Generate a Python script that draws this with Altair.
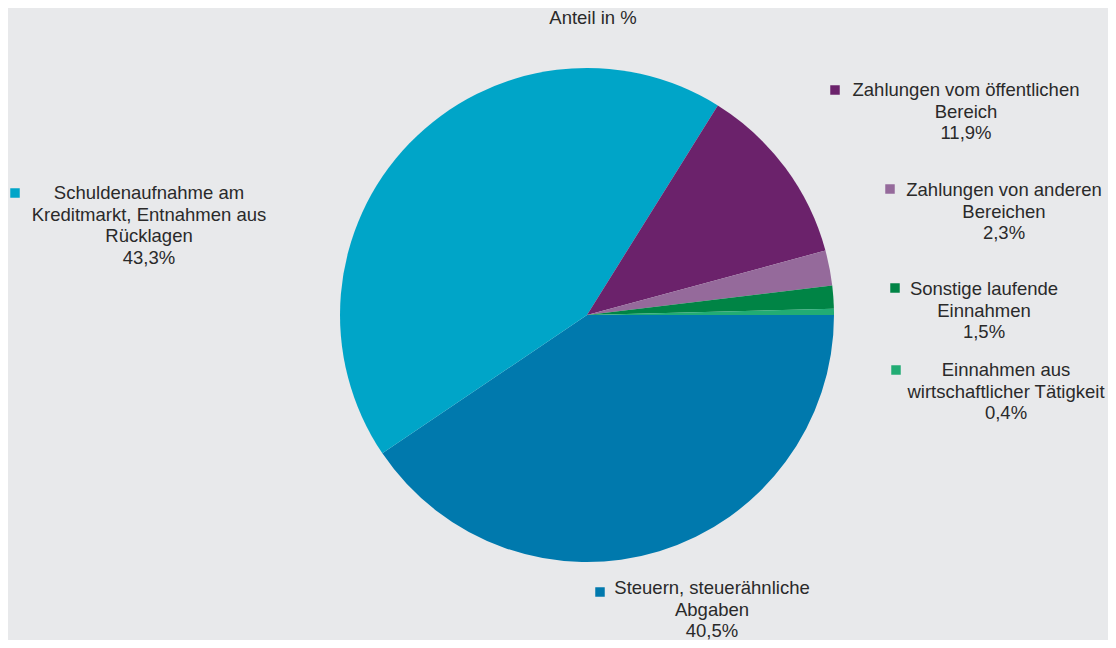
import math
import altair as alt
import pandas as pd

# --- data ---
categories = [
    "Steuern, steuerähnliche Abgaben",
    "Schuldenaufnahme am Kreditmarkt, Entnahmen aus Rücklagen",
    "Zahlungen vom öffentlichen Bereich",
    "Zahlungen von anderen Bereichen",
    "Sonstige laufende Einnahmen",
    "Einnahmen aus wirtschaftlicher Tätigkeit",
]
values = [40.5, 43.3, 11.9, 2.3, 1.5, 0.4]
colors = ["#0079ad", "#00a5c8", "#6b226b", "#956a9b", "#008445", "#22ac74"]

# wrapped label lines (layout of the text)
label_lines = [
    ["Steuern, steuerähnliche", "Abgaben"],
    ["Schuldenaufnahme am", "Kreditmarkt, Entnahmen aus", "Rücklagen"],
    ["Zahlungen vom öffentlichen", "Bereich"],
    ["Zahlungen von anderen", "Bereichen"],
    ["Sonstige laufende", "Einnahmen"],
    ["Einnahmen aus", "wirtschaftlicher Tätigkeit"],
]
# label placement (chart pixel coords, annotation layout)
label_cx = [704, 141, 958, 996, 976, 998]
label_y0 = [586, 191, 88, 188, 287, 368]
square_x = [592, 7, 827, 882, 887, 888]
square_y = [584, 185, 82, 181, 280, 362]

FONT = "Liberation Sans"
TXT = "#2a2a2a"
FS = 18.5

def pct(v):
    return f"{v:.1f}".replace(".", ",") + "%"

pie_df = pd.DataFrame({"cat": categories, "val": values, "idx": list(range(len(values)))})

lab_df = pd.DataFrame({
    "cat": categories,
    "text": ["\n".join(l + [pct(v)]) for l, v in zip(label_lines, values)],
    "lx": label_cx,
    "ly": label_y0,
})
sq_df = pd.DataFrame({"cat": categories, "sx": square_x, "sy": square_y})

color_scale = alt.Scale(domain=categories, range=colors)

pie = alt.Chart(pie_df).mark_arc(outerRadius=247, stroke=None).encode(
    theta=alt.Theta("val:Q", stack=True,
                    scale=alt.Scale(range=[math.pi / 2, math.pi / 2 + 2 * math.pi])),
    order=alt.Order("idx:Q", sort="ascending"),
    color=alt.Color("cat:N", scale=color_scale, legend=None),
    x=alt.value(579),
    y=alt.value(307),
)

labels = alt.Chart(lab_df).mark_text(
    font=FONT, fontSize=FS, color=TXT, align="center", baseline="alphabetic",
    lineBreak="\n", lineHeight=21.5,
).encode(
    x=alt.X("lx:Q", scale=None, axis=None),
    y=alt.Y("ly:Q", scale=None, axis=None),
    text="text:N",
)

squares = alt.Chart(sq_df).mark_square(size=90, opacity=1).encode(
    x=alt.X("sx:Q", scale=None, axis=None),
    y=alt.Y("sy:Q", scale=None, axis=None),
    color=alt.Color("cat:N", scale=color_scale, legend=None),
)

title_df = pd.DataFrame({"t": ["Anteil in %"]})
title = alt.Chart(title_df).mark_text(
    font=FONT, fontSize=FS, color=TXT, align="center", baseline="alphabetic",
).encode(x=alt.value(585), y=alt.value(16), text="t:N")

chart = alt.layer(pie, squares, labels, title).properties(
    width=1100, height=632,
    autosize=alt.AutoSizeParams(type="none"),
    padding=0,
    background="#e8e9eb",
).configure_view(stroke=None)

chart.save("out.html", embed_options={"renderer": "svg", "actions": False})
